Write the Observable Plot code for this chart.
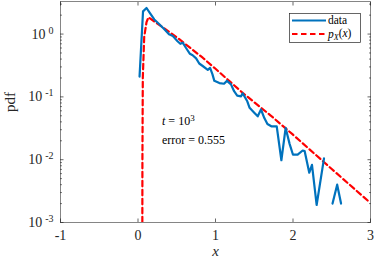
<!DOCTYPE html>
<html><head><meta charset="utf-8">
<script src="https://cdn.jsdelivr.net/npm/d3@7"></script>
<script src="https://cdn.jsdelivr.net/npm/@observablehq/plot@0.6"></script>
<style>body{margin:0;background:#fff}</style>
</head><body><div id="chart"></div>
<script>
// empirical pdf ("data"); NaN = empty bin (gap on log axis)
const dataX = [0.02,0.065,0.11,0.15,0.21,0.275,0.34,0.40,0.45,0.51,0.546,0.577,0.62,0.67,0.705,0.75,0.79,0.835,0.90,0.93,0.96,0.985,1.05,1.11,1.148,1.20,1.24,1.28,1.33,1.35,1.41,1.44,1.50,1.545,1.587,1.63,1.67,1.72,1.79,1.85,1.905,1.957,2.00,2.06,2.125,2.15,2.21,2.245,2.305,2.40,2.45,2.51,2.57,2.62];
const dataY = [0.21,2.3,2.6,2.19,1.71,1.43,1.19,0.99,0.93,0.77,0.70,0.73,0.60,0.485,0.46,0.41,0.34,0.31,0.27,0.29,0.23,0.18,0.166,0.162,0.18,0.158,0.123,0.105,0.102,0.114,0.085,0.067,0.056,0.049,0.063,0.046,0.037,0.034,0.034,0.0098,0.032,0.0177,0.012,0.012,0.014,0.0137,0.0062,0.0083,0.0019,0.0105,NaN,0.002,0.004,0.002];
// theoretical pdf p_X(x)
const pdfX = [0.055,0.057,0.062,0.08,0.11,0.135,0.5,0.835,1.0,1.35,1.716,2.0,2.5,2.97];
const pdfY = [0.0001,0.01,0.2,0.9,1.55,1.85,0.89,0.42,0.28,0.116,0.05,0.025,0.0071,0.0022];
// ticks
const xTicks = [-1,0,1,2,3];
const yTicks = [1e-3,1e-2,1e-1,1];
const yMinor = [2e-3,3e-3,4e-3,5e-3,6e-3,7e-3,8e-3,9e-3,2e-2,3e-2,4e-2,5e-2,6e-2,7e-2,8e-2,9e-2,0.2,0.3,0.4,0.5,0.6,0.7,0.8,0.9,2,3];
// annotations
const annX = [0.31,0.31];
const annY = [0.041,0.0205];
const annText = ["t = 10^3","error = 0.555"];
// legend
const legendNames = ["data","p_X(x)"];

const blue = "#0072BD", red = "#FF0000", axisColor = "#262626";
const data = dataX.map((x,i)=>({x, y:dataY[i]}));
const pdf = pdfX.map((x,i)=>({x, y:pdfY[i]}));
const ann = annX.map((x,i)=>({x, y:annY[i], t:annText[i]}));

const chart = Plot.plot({
  width:374, height:263,
  marginLeft:60, marginRight:4, marginTop:1, marginBottom:41,
  style:{fontFamily:"'Liberation Serif', serif", fontSize:"14px", color:axisColor, background:"#fff"},
  x:{domain:[-1,3]},
  y:{type:"log", domain:[1e-3,3.3]},
  marks:[
    Plot.line(pdf, {x:"x", y:"y", stroke:red, strokeWidth:2.2, strokeDasharray:"5.5,3.5", clip:true}),
    Plot.line(data, {x:"x", y:"y", stroke:blue, strokeWidth:2.2, clip:true}),
    Plot.text(ann, {x:"x", y:"y", text:"t", textAnchor:"start", fontSize:12, fill:"#000"}),
    Plot.frame({stroke:axisColor, strokeWidth:0.7, strokeOpacity:0.8}),
    Plot.axisX(xTicks, {anchor:"bottom", tickSize:-3.5, fill:"none", label:null, strokeWidth:0.7}),
    Plot.axisX(xTicks, {anchor:"top", tickSize:-3.5, fill:"none", label:null, strokeWidth:0.7}),
    Plot.axisX(xTicks, {anchor:"bottom", tickSize:0, tickPadding:8, tickFormat:d=>String(d), label:null}),
    Plot.axisY(yTicks, {anchor:"left", tickSize:-3.5, fill:"none", label:null, strokeWidth:0.7}),
    Plot.axisY(yTicks, {anchor:"right", tickSize:-3.5, fill:"none", label:null, strokeWidth:0.7}),
    Plot.axisY(yMinor, {anchor:"left", tickSize:-2, fill:"none", label:null, strokeWidth:0.6}),
    Plot.axisY(yMinor, {anchor:"right", tickSize:-2, fill:"none", label:null, strokeWidth:0.6}),
    Plot.axisY(yTicks, {anchor:"left", tickSize:0, tickPadding:7, label:null, tickFormat:d=>"10^"+Math.round(Math.log10(d))}),
    Plot.text(["x"], {frameAnchor:"bottom", dy:33, fontStyle:"italic", fontSize:15}),
    Plot.text(["pdf"], {frameAnchor:"left", dx:-50, rotate:-90, fontSize:15})
  ]
});
document.getElementById("chart").append(chart);

const svg = d3.select(chart);
// superscripts in y tick labels
svg.selectAll('[aria-label="y-axis tick label"] text').each(function(){
  const [b,e] = this.textContent.split("^");
  const s = d3.select(this); this.textContent = "";
  s.append("tspan").text(b);
  s.append("tspan").attr("dx",3).attr("dy","-0.5em").attr("font-size","10px").text(e);
});
// annotation rich text
svg.selectAll('[aria-label="text"] text').each(function(){
  const t = this.textContent;
  if (t.includes("^")) {
    const [b,e] = t.split("^");
    const s = d3.select(this); this.textContent = "";
    s.append("tspan").attr("font-style","italic").text(b.slice(0,1));
    s.append("tspan").text(b.slice(1));
    s.append("tspan").attr("dy","-0.45em").attr("font-size","9px").text(e);
  }
});
// legend box (top right inside frame)
const lg = svg.append("g").attr("font-family","'Liberation Serif', serif").attr("font-size","11.5px")
  .attr("fill","#000").attr("text-anchor","start");
lg.append("rect").attr("x",289.5).attr("y",13.5).attr("width",71).attr("height",29)
  .attr("fill","#fff").attr("stroke",axisColor).attr("stroke-width",0.7);
const rows = [{c:blue, dash:null, y:20.5},{c:red, dash:"5.5,3.5", y:34}];
rows.forEach((r,i)=>{
  lg.append("line").attr("x1",292).attr("x2",326).attr("y1",r.y).attr("y2",r.y)
    .attr("stroke",r.c).attr("stroke-width",2.2).attr("stroke-dasharray",r.dash);
  const t = lg.append("text").attr("x",328).attr("y",r.y).attr("dy","0.32em").attr("text-anchor","start");
  if (i===0) t.text(legendNames[0]);
  else {
    t.append("tspan").attr("font-style","italic").text("p");
    t.append("tspan").attr("font-style","italic").attr("font-size","8px").attr("dy","0.25em").text("X");
    t.append("tspan").attr("dy","-0.25em").text("(");
    t.append("tspan").attr("font-style","italic").text("x");
    t.append("tspan").text(")");
  }
});
</script></body></html>
